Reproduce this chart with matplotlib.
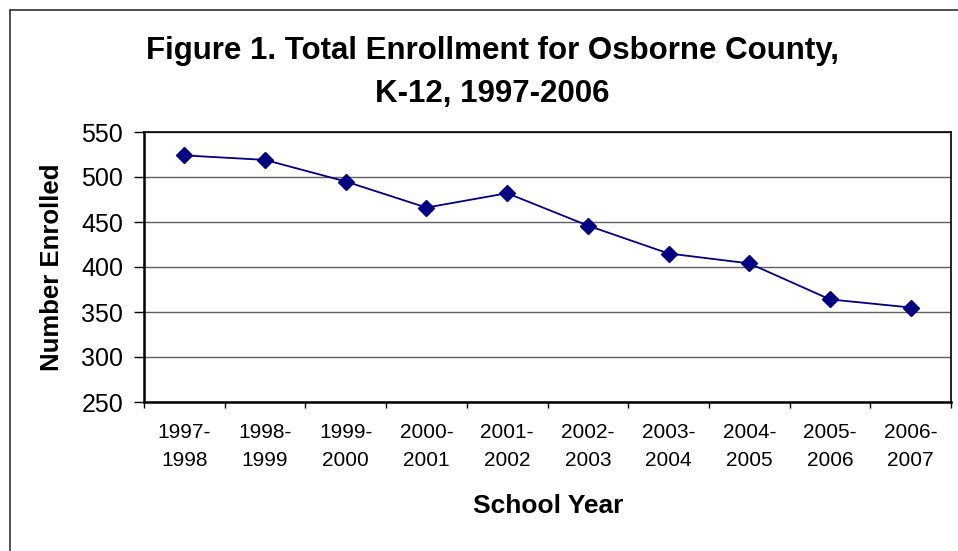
import matplotlib
matplotlib.use("Agg")
import matplotlib.pyplot as plt
from matplotlib.patches import Rectangle
import numpy as np

# enrollment per school year
school_years = ["1997-\n1998", "1998-\n1999", "1999-\n2000", "2000-\n2001", "2001-\n2002",
                "2002-\n2003", "2003-\n2004", "2004-\n2005", "2005-\n2006", "2006-\n2007"]
enrolled = [524, 519, 495, 466, 482, 446, 415, 404, 364, 355]
y_ticks = [250, 300, 350, 400, 450, 500, 550]

LINE_COLOR = "#000080"
W, H = 958, 551

plt.rcParams["font.family"] = ["Liberation Sans", "DejaVu Sans"]

fig = plt.figure(figsize=(W / 100, H / 100), dpi=100)
ax = fig.add_axes([144 / W, 1 - 402 / H, (951 - 144) / W, (402 - 132) / H])

x = np.arange(len(enrolled))
ax.plot(x, enrolled, color=LINE_COLOR, lw=1.3, marker="D", markersize=8,
        markerfacecolor=LINE_COLOR, markeredgecolor=LINE_COLOR, zorder=3)

ax.set_ylim(y_ticks[0], y_ticks[-1])
ax.set_yticks(y_ticks)
ax.set_xlim(-0.5, len(enrolled) - 0.5)
# tick marks sit between categories, labels under the points
ax.set_xticks(np.arange(len(enrolled) + 1) - 0.5)
ax.set_xticklabels([])
ax.set_xticks(x, minor=True)
ax.set_xticklabels(school_years, minor=True, fontsize=15, linespacing=1.6)
ax.tick_params(axis="x", which="major", direction="out", length=4, width=1)
ax.tick_params(axis="x", which="minor", length=0, pad=15)
ax.tick_params(axis="y", direction="out", length=7, width=1, pad=8, labelsize=18)

ax.grid(axis="y", color="#606060", lw=1)
ax.set_axisbelow(True)
for side in ["left", "bottom"]:
    ax.spines[side].set_linewidth(1.8)
for side in ["top", "right"]:
    ax.spines[side].set_linewidth(1.2)

fig.text(52 / W, 1 - 267 / H, "Number Enrolled", rotation=90, ha="center", va="center",
         fontsize=18.5, fontweight="bold")
fig.text(548 / W, 1 - 506 / H, "School Year", ha="center", va="center",
         fontsize=19, fontweight="bold")
fig.text(492 / W, 1 - 59 / H, "Figure 1. Total Enrollment for Osborne County,",
         ha="center", va="baseline", fontsize=22.5, fontweight="bold")
fig.text(492 / W, 1 - 102 / H, "K-12, 1997-2006",
         ha="center", va="baseline", fontsize=22.5, fontweight="bold")

# outer chart border, cropped on the right and bottom
fig.patches.append(Rectangle((10 / W, -0.1), 1.2, 1 - 10 / H + 0.1, transform=fig.transFigure,
                             fill=False, edgecolor="#303030", lw=1.2))

fig.savefig("out.png", dpi=100)
